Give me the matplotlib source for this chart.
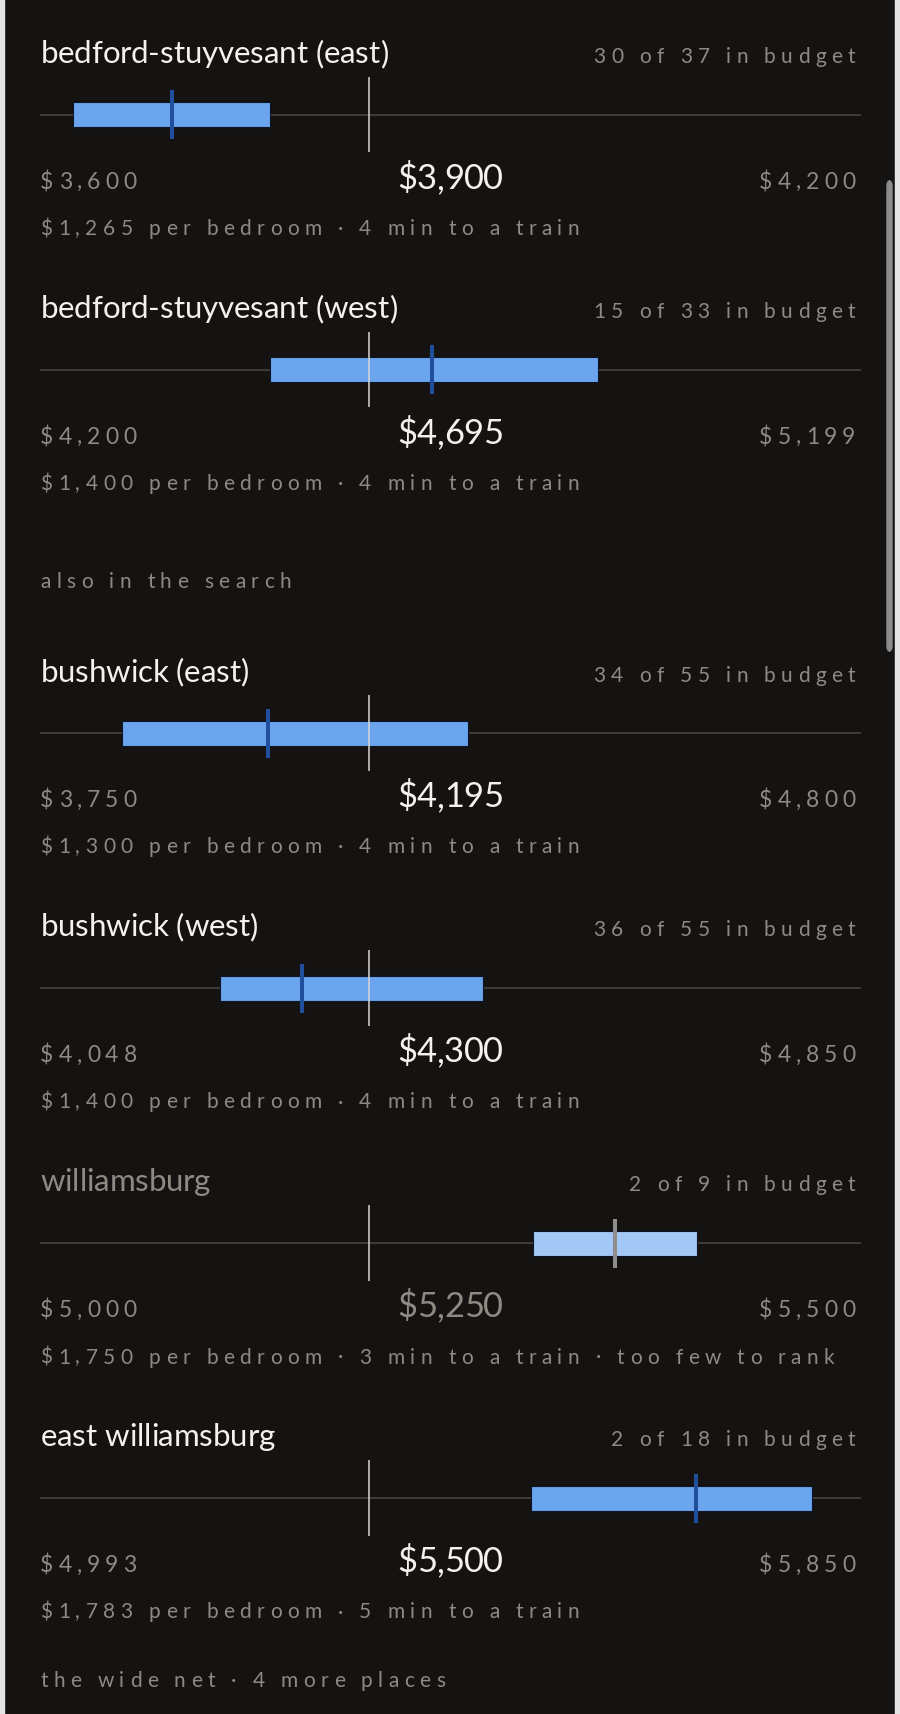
import matplotlib
matplotlib.use("Agg")
import matplotlib.pyplot as plt
from matplotlib.patches import Rectangle, FancyBboxPatch
from matplotlib.font_manager import FontProperties, findfont
from matplotlib.ft2font import FT2Font

# DATA
places = ["bedford-stuyvesant (east)", "bedford-stuyvesant (west)",
          "bushwick (east)", "bushwick (west)", "williamsburg", "east williamsburg"]
low = [3600, 4200, 3750, 4048, 5000, 4993]
mid = [3900, 4695, 4195, 4300, 5250, 5500]
high = [4200, 5199, 4800, 4850, 5500, 5850]
box_lo = [3624, 4479, 3855, 4224, 5300, 5505]
box_hi = [3768, 4879, 4297, 4481, 5400, 5799]
median = [3696, 4677, 4041, 4304, 5350, 5678]
marker = [3840, 4600, 4170, 4369, 5200, 5336]
in_budget = ["30 of 37 in budget", "15 of 33 in budget", "34 of 55 in budget",
             "36 of 55 in budget", "2 of 9 in budget", "2 of 18 in budget"]
per_bed = [1265, 1400, 1300, 1400, 1750, 1783]
train_min = [4, 4, 4, 4, 3, 5]
notes = ["", "", "", "", "too few to rank", ""]
dimmed = [False, False, False, False, True, False]
headers = {2: "also in the search"}
footer = "the wide net \u00b7 4 more places"

W, H = 900, 1715
BG = "#151312"
WHITE = "#f3f2f0"
GREY = "#8e8983"
BAR = "#6aa5ee"
BAR_DIM = "#a3c8f5"
TICK = "#1f4f9d"
TICK_DIM = "#8f8c89"
FONT = "Lato"

fig = plt.figure(figsize=(W / 100, H / 100), dpi=100, facecolor=BG)

_fonts = {}
def advance(c, fp):
    path = findfont(fp)
    if path not in _fonts:
        _fonts[path] = FT2Font(path, hinting_factor=1)
    f = _fonts[path]
    f.set_size(fp.get_size_in_points(), 100)
    g = f.load_char(ord(c))
    return g.linearHoriAdvance / 65536

def put(x, y, s, size, color, track=0.0, ha="left"):
    # letter spaced text placed one glyph at a time (y is baseline, from top)
    fp = FontProperties(family=FONT, size=size)
    adv = [advance(c, fp) for c in s]
    total = sum(adv) + track * (len(s) - 1)
    if ha == "right":
        x -= total
    elif ha == "center":
        x -= total / 2
    for c, a in zip(s, adv):
        fig.text(x / W, 1 - y / H, c, fontproperties=fp, color=color,
                 ha="left", va="baseline")
        x += a + track

LEFT, RIGHT, RIGHT_TEXT = 40.3, 861.0, 855.5
axis_y = [115.7, 370.7, 734, 989, 1244, 1499]
SMALL, SMALL_TRACK = 15, 5.35

for i, name in enumerate(places):
    A = axis_y[i]
    ax = fig.add_axes([LEFT / W, (H - A - 40) / H, (RIGHT - LEFT) / W, 80 / H])
    ax.set_xlim(low[i], high[i])
    ax.set_ylim(-40, 40)
    ax.axis("off")
    ax.axhline(0, color="#3d3a38", lw=1.5, zorder=1)
    ax.barh(0, box_hi[i] - box_lo[i], left=box_lo[i], height=25,
            color=BAR_DIM if dimmed[i] else BAR, edgecolor="#0e1626",
            linewidth=0.8, zorder=2)
    ax.vlines(marker[i], -37.7, 37.7, color="#d8d6d4", lw=1.1, zorder=3)
    ax.vlines(median[i], -24.5, 24.5, color=TICK_DIM if dimmed[i] else TICK,
              lw=2.9, zorder=4)

    put(LEFT, A - 52.5, name, 22.5, GREY if dimmed[i] else WHITE)
    put(RIGHT_TEXT, A - 52.5, in_budget[i], SMALL, GREY, track=SMALL_TRACK, ha="right")
    put(LEFT, A + 73.5, f"${low[i]:,}", 16.5, GREY, track=4.9)
    put(450, A + 73.5, f"${mid[i]:,}", 24.8, GREY if dimmed[i] else WHITE, ha="center")
    put(RIGHT_TEXT, A + 73.5, f"${high[i]:,}", 16.5, GREY, track=4.9, ha="right")
    sub = f"${per_bed[i]:,} per bedroom \u00b7 {train_min[i]} min to a train"
    if notes[i]:
        sub += " \u00b7 " + notes[i]
    put(LEFT, A + 119.5, sub, SMALL, GREY, track=SMALL_TRACK)

for i, text in headers.items():
    put(LEFT, 588, text, SMALL, GREY, track=SMALL_TRACK)
put(LEFT, 1686.7, footer, SMALL, GREY, track=SMALL_TRACK)

# page frame and scrollbar
fig.patches.append(Rectangle((0, 0), 4 / W, 1, transform=fig.transFigure,
                             color="#e4e4e4", zorder=10))
fig.patches.append(Rectangle((895 / W, 0), 5 / W, 1, transform=fig.transFigure,
                             color="#e4e4e4", zorder=10))
fig.patches.append(FancyBboxPatch((887 / W, (H - 652) / H), 5 / W, 470 / H,
                                  boxstyle="round,pad=0,rounding_size=0.003",
                                  transform=fig.transFigure, color="#8c8c8c", zorder=10))

fig.savefig("out.png", dpi=100, facecolor=BG)
